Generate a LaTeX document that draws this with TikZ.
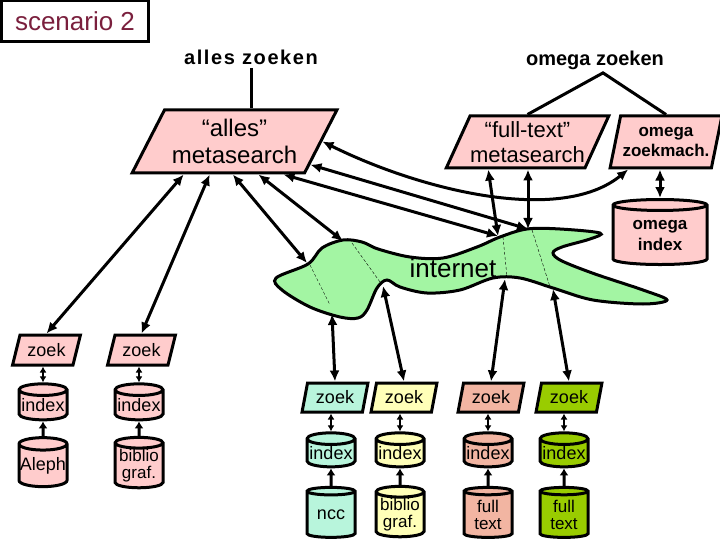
\documentclass[tikz,border=0pt]{standalone}
\usepackage{fontspec}
\setmainfont{Liberation Sans}
\usetikzlibrary{arrows.meta,positioning,shapes.geometric,calc}

\definecolor{pinkbox}{HTML}{FFCCCC}
\definecolor{netgreen}{HTML}{A3F5A3}
\definecolor{aqua}{HTML}{B8F5DC}
\definecolor{lightyel}{HTML}{FFFFB8}
\definecolor{salmon}{HTML}{F2B5A2}
\definecolor{olive}{HTML}{99CC00}
\definecolor{scentext}{HTML}{7A1F3D}

\begin{document}
\begin{tikzpicture}[x=1pt, y=-1pt,
    para/.style={trapezium, trapezium stretches, draw, line width=3pt, fill=pinkbox, inner sep=0pt, align=center},
    zk/.style={para, font=\fontsize{18}{20}\selectfont},
    drum/.style={cylinder, shape border rotate=90, aspect=0.27, draw, line width=3pt, inner sep=0pt, align=center, minimum width=48pt, font=\fontsize{18}{16}\selectfont},
    head/.style={font=\fontsize{20}{22}\selectfont\bfseries},
    link/.style={<->, >={Latex[length=11pt,width=10pt]}, line width=3pt},
    short/.style={<->, >={Latex[length=6pt,width=7pt]}, line width=2pt},
    feed/.style={->, >={Latex[length=7pt,width=9pt]}, line width=3pt},
    seam/.style={thin, dash pattern=on 3pt off 2pt}
]
\useasboundingbox (0,0) rectangle (720,540);

% title
\node[draw, line width=3pt, minimum width=147pt, minimum height=41pt, text=scentext, font=\fontsize{26}{28}\selectfont] (scen) at (75,21.5) {scenario 2};

% search entries
\node[head] (allesq) at (251,57) {\addfontfeature{LetterSpace=8}alles zoeken};
\node[head] (omegaq) at (595,60) {omega zoeken};

% metasearch engines
\node[para, trapezium left angle=57, trapezium right angle=123, minimum width=205pt, minimum height=63pt, font=\fontsize{24}{27}\selectfont] (alles) at (234.5,141.5) {“alles”\\metasearch};
\node[para, trapezium left angle=60, trapezium right angle=120, minimum width=155pt, minimum height=52pt, font=\fontsize{22}{25}\selectfont] (ftext) at (527.5,142) {“full-text”\\metasearch};
\node[para, trapezium left angle=71, trapezium right angle=109, minimum width=112pt, minimum height=52pt, font=\fontsize{17}{20}\selectfont\bfseries] (omzm) at (666,142) {omega\\zoekmach.};
\node[drum, aspect=0.2, minimum width=94pt, minimum height=65pt, fill=pinkbox, font=\fontsize{17}{21}\selectfont\bfseries] (omidx) at (660,235.5) {omega\\index};

% internet
\draw[line width=3pt, fill=netgreen] plot[smooth cycle, tension=0.55] coordinates {
    (276,278) (308,264) (322,248) (343,240) (362,242) (378,249) (410,257) (443,258)
    (477,247) (500,237) (527,229) (560,229) (600,233) (590,239) (562,247) (553,253)
    (562,261) (595,274) (643,290) (667,300) (643,304) (593,300) (553,288) (520,278)
    (493,278) (460,290) (427,293) (400,287) (387,280) (377,288) (367,310) (358,318)
    (340,317) (310,307) (282,290)};
\draw[seam] (310,265) -- (330,305);
\draw[seam] (352,243) -- (380,282);
\draw[seam] (503,237) -- (507,277);
\draw[seam] (532,230) -- (550,287);
\node[font=\fontsize{26}{28}\selectfont] (inet) at (453,268) {internet};

\coordinate (nA) at (307,263);
\coordinate (nB) at (343,241);
\coordinate (nC) at (498,236);
\coordinate (nD) at (528,229);
\coordinate (sA) at (332,314);
\coordinate (sB) at (383,286);
\coordinate (sC) at (505,279);
\coordinate (sD) at (553,289);

% local catalogues (left)
\node[zk, trapezium left angle=68, trapezium right angle=112, minimum width=68pt, minimum height=30pt] (zoekA) at (46.5,350) {zoek};
\node[zk, trapezium left angle=68, trapezium right angle=112, minimum width=68pt, minimum height=30pt] (zoekB) at (141.5,350) {zoek};
\node[drum, minimum height=36pt, fill=pinkbox] (idxA) at (43,405.5) {index};
\node[drum, minimum height=36pt, fill=pinkbox] (idxB) at (139,405.5) {index};
\node[drum, minimum height=49pt, fill=pinkbox] (srcA) at (43,466) {Aleph};
\node[drum, minimum height=49pt, fill=pinkbox, font=\fontsize{17}{17}\selectfont] (srcB) at (139,466) {biblio\\graf.};

% remote catalogues (right)
\node[zk, fill=aqua, trapezium left angle=74, trapezium right angle=106, minimum width=66pt, minimum height=29pt] (zoekC) at (335,397.5) {zoek};
\node[zk, fill=lightyel, trapezium left angle=74, trapezium right angle=106, minimum width=66pt, minimum height=29pt] (zoekD) at (404,397.5) {zoek};
\node[zk, fill=salmon, trapezium left angle=74, trapezium right angle=106, minimum width=66pt, minimum height=29pt] (zoekE) at (491,397.5) {zoek};
\node[zk, fill=olive, trapezium left angle=74, trapezium right angle=106, minimum width=66pt, minimum height=29pt] (zoekF) at (569,397.5) {zoek};
\node[drum, minimum height=34pt, fill=aqua] (idxC) at (331,453.5) {index};
\node[drum, minimum height=34pt, fill=lightyel] (idxD) at (400,453.5) {index};
\node[drum, minimum height=34pt, fill=salmon] (idxE) at (488,453.5) {index};
\node[drum, minimum height=34pt, fill=olive] (idxF) at (564,453.5) {index};
\node[drum, minimum height=50pt, fill=aqua] (srcC) at (331,515) {ncc};
\node[drum, minimum height=50pt, fill=lightyel, font=\fontsize{17}{17}\selectfont] (srcD) at (400,515) {biblio\\graf.};
\node[drum, minimum height=50pt, fill=salmon, font=\fontsize{17}{17}\selectfont] (srcE) at (488,515) {full\\text};
\node[drum, minimum height=50pt, fill=olive, font=\fontsize{17}{17}\selectfont] (srcF) at (564,515) {full\\text};

% query lines
\draw[line width=3pt] (allesq.south) -- (allesq.south |- alles.north);
\draw[line width=3pt] (ftext.north) -- ([xshift=8pt]omegaq.south) -- (omzm.north);

% alles metasearch
\draw[link] (alles.213) -- (zoekA.north);
\draw[link] (alles.233) -- (zoekB.north);
\draw[link] (alles.267) -- (nA);
\draw[link] (alles.306) -- (nB);
\draw[link] (alles.326) -- (nC);
\draw[link] (alles.343) -- (nD);
\draw[link] (alles.0) .. controls (420,190) and (560,225) .. (omzm.216);

% full-text metasearch and omega
\draw[link] (ftext.215) -- (nC);
\draw[link] (nD |- ftext.south) -- (nD);
\draw[link] (omidx.north |- omzm.south) -- (omidx.north);

% internet to remote catalogues
\draw[link] (sA) -- (zoekC.north);
\draw[link] (sB) -- (zoekD.north);
\draw[link] (sC) -- (zoekE.north);
\draw[link] (sD) -- (zoekF.north);

% zoek - index - source
\foreach \s in {A,B,C,D,E,F}{
  \draw[short] (idx\s.north |- zoek\s.south) -- (idx\s.north);
  \draw[feed] (src\s.north) -- (idx\s.south);
}

\end{tikzpicture}
\end{document}
